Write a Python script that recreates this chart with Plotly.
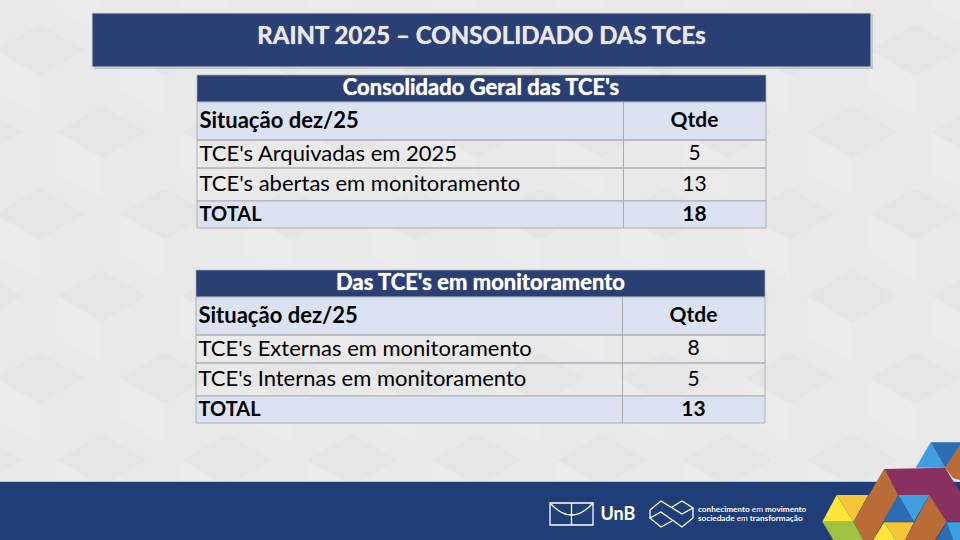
import plotly.graph_objects as go

SLIDE_TITLE = "RAINT 2025 – CONSOLIDADO DAS TCEs"

# tabela 1
T1_TITLE = "Consolidado Geral das TCE's"
T1_LABELS = ["Situação dez/25", "TCE's Arquivadas em 2025", "TCE's abertas em monitoramento", "TOTAL"]
T1_QTDE = ["Qtde", 5, 13, 18]

# tabela 2
T2_TITLE = "Das TCE's em monitoramento"
T2_LABELS = ["Situação dez/25", "TCE's Externas em monitoramento", "TCE's Internas em monitoramento", "TOTAL"]
T2_QTDE = ["Qtde", 8, 5, 13]

FONT = "Lato"
NAVY = "#2a3f73"
FOOTER = "#1f3e77"
ROW_BLUE = "#dbe3f3"
GRID = "#a6a9ad"

shapes = []


def poly(points, color, line=None, width=1):
    path = "M" + " L".join(f"{x},{y}" for x, y in points) + " Z"
    shapes.append(dict(type="path", path=path, fillcolor=color, layer="below",
                       line=dict(color=line or color, width=width if line else 0)))


def stroke(points, color="white", width=1.3, close=False):
    path = "M" + " L".join(f"{x},{y}" for x, y in points) + (" Z" if close else "")
    shapes.append(dict(type="path", path=path, layer="below", line=dict(color=color, width=width)))


def rect(x0, y0, x1, y1, color, line=None, width=1):
    shapes.append(dict(type="rect", x0=x0, y0=y0, x1=x1, y1=y1, fillcolor=color, layer="below",
                       line=dict(color=line or color, width=width if line else 0)))


# fundo com cubos bem claros
rect(0, 0, 960, 540, "#e9e9e9")
for row in range(-1, 6):
    for col in range(-1, 9):
        cx = col * 125 + (62 if row % 2 else 0) + 40
        cy = row * 82 + 50
        poly([(cx - 45, cy), (cx, cy - 26), (cx + 45, cy), (cx, cy + 26)], "#e5e5e5")
        poly([(cx - 45, cy), (cx, cy + 26), (cx, cy + 66), (cx - 45, cy + 40)], "#ebebeb")

# faixa do titulo
rect(94, 15, 873, 69, "rgba(90,90,90,0.25)")
rect(92, 13, 871, 67, NAVY, line="#d5d7dc", width=1)

# rodape
rect(0, 481, 960, 483, "#c4c6ca")
rect(0, 482, 960, 540, FOOTER)


# mosaico: pontos lidos no recorte, escala 3x a partir de (810, 435)
def mosaic(points, color):
    poly([(810 + x / 3, 435 + y / 3) for x, y in points], color)


mosaic([(317, 98), (362, 22), (405, 98)], "#3f9fe0")
mosaic([(362, 22), (450, 22), (450, 50), (405, 98)], "#2b6cb5")
mosaic([(405, 98), (450, 30), (450, 135), (430, 130)], "#b96c35")
mosaic([(222, 102), (405, 98), (450, 170), (450, 260), (410, 260), (358, 180), (265, 180)], "#88305f")
mosaic([(222, 102), (265, 180), (190, 315), (160, 315), (130, 260)], "#b96c35")
mosaic([(265, 180), (312, 260), (218, 260)], "#2b6cb5")
mosaic([(265, 180), (358, 180), (312, 260)], "#3f9fe0")
mosaic([(358, 180), (410, 260), (375, 315), (285, 315)], "#b96c35")
mosaic([(80, 180), (130, 260), (37, 260)], "#fde53a")
mosaic([(80, 180), (175, 180), (130, 260)], "#f7c638")
mosaic([(37, 260), (130, 260), (160, 315), (70, 315)], "#9dc23f")
mosaic([(222, 262), (258, 315), (190, 315)], "#fde53a")
mosaic([(222, 262), (312, 262), (285, 315), (258, 315)], "#f7c638")
mosaic([(410, 262), (430, 315), (378, 315)], "#2b6cb5")
mosaic([(410, 262), (450, 262), (450, 315), (430, 315)], "#3f9fe0")

# logo UnB
rect(550, 503, 593, 525, "rgba(0,0,0,0)", line="white", width=1.3)
stroke([(571.5, 503), (571.5, 525)])
shapes.append(dict(type="path", path="M550,503 Q571.5,527 593,503", layer="below",
                   line=dict(color="white", width=1.3)))

# logo conhecimento em movimento
stroke([(650, 510), (661, 501), (682, 514), (693, 508), (682, 501), (672, 507)])
stroke([(650, 510), (650, 518), (661, 512), (682, 527), (693, 518), (693, 508)])
stroke([(650, 518), (661, 527), (672, 521)])


def draw_table(x0, x_split, x1, ys):
    rect(x0, ys[0], x1, ys[1], NAVY, line=GRID, width=0.8)
    fills = [ROW_BLUE, "rgba(0,0,0,0)", "rgba(0,0,0,0)", ROW_BLUE]
    for i, fill in enumerate(fills):
        rect(x0, ys[i + 1], x_split, ys[i + 2], fill, line=GRID, width=0.9)
        rect(x_split, ys[i + 1], x1, ys[i + 2], fill, line=GRID, width=0.9)


T1_Y = [75, 102, 140, 168, 201, 228]
T2_Y = [270, 297, 335, 363, 396, 423]
draw_table(197, 623.5, 766, T1_Y)
draw_table(196, 622.5, 765, T2_Y)


fig = go.Figure()


def text_trace(xs, ys, texts, position, size, color="black", weight="normal", shadow="none"):
    fig.add_trace(go.Scatter(
        x=xs, y=ys, text=texts, mode="text", textposition=position, hoverinfo="skip",
        textfont=dict(family=FONT, size=size, color=color, weight=weight, shadow=shadow),
    ))


def table_text(title, labels, qtde, x_label, x_center, x_title, ys):
    mids = [(ys[i] + ys[i + 1]) / 2 + 1 for i in range(5)]
    text_trace([x_title], [mids[0]], [title], "middle center", 22, "white", "bold", "0 0 1px #ffffff")
    text_trace([x_label], [mids[1]], [labels[0]], "middle right", 22, weight="bold")
    text_trace([x_label], [mids[4]], [labels[3]], "middle right", 20, weight="bold")
    text_trace([x_center] * 2, [mids[1], mids[4]], [qtde[0], qtde[3]], "middle center", 21, weight="bold")
    text_trace([x_label] * 2, mids[2:4], labels[1:3], "middle right", 22)
    text_trace([x_center] * 2, mids[2:4], qtde[1:3], "middle center", 21)


table_text(T1_TITLE, T1_LABELS, T1_QTDE, 199.5, 694.5, 481, T1_Y)
table_text(T2_TITLE, T2_LABELS, T2_QTDE, 198.5, 693.5, 480.5, T2_Y)

text_trace([481.5], [38], [SLIDE_TITLE], "middle center", 24, "#e8e8e8", "bold", "0 0 1px #e8e8e8")
text_trace([600.5], [515], ["UnB"], "middle right", 18, "white", "bold")
text_trace([698, 698], [509.5, 518.5],
           ["<b>conhecimento</b> em <b>movimento</b>", "<b>sociedade</b> em <b>transformação</b>"],
           "middle right", 8.2, "white")

fig.update_layout(
    width=960, height=540,
    margin=dict(l=0, r=0, t=0, b=0),
    showlegend=False,
    shapes=shapes,
    plot_bgcolor="#e9e9e9",
    paper_bgcolor="#e9e9e9",
    xaxis=dict(range=[0, 960], visible=False, fixedrange=True),
    yaxis=dict(range=[540, 0], visible=False, fixedrange=True),
)

fig.write_html("out.html", post_script="document.body.style.margin='0';", config=dict(displayModeBar=False))
